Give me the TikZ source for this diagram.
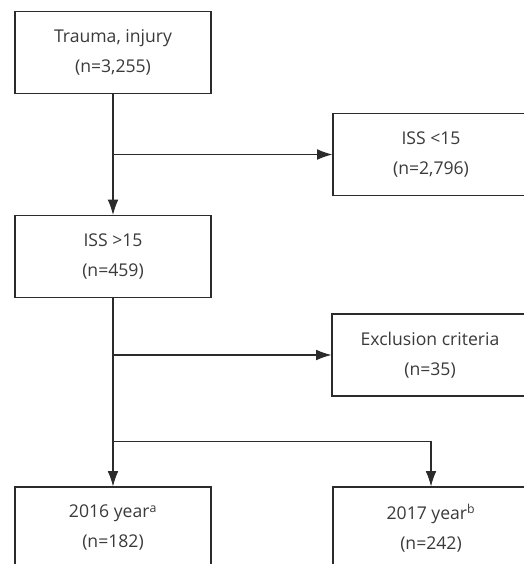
\documentclass[tikz,border=0pt]{standalone}
\usepackage{fontspec}
\setmainfont{Open Sans}
\usepackage{tikz}
\usetikzlibrary{arrows.meta, positioning, calc}
\definecolor{flowgray}{HTML}{3a3a3a}
\definecolor{flowline}{HTML}{2b2b2b}
\tikzset{
  flowbox/.style={draw=flowline, line width=0.8pt, minimum width=147pt, minimum height=61.5pt,
                  align=center, inner sep=0pt, text=flowgray, font=\fontsize{13.2}{22.5}\selectfont},
  arrow/.style={-{Latex[length=11.5pt,width=8pt]}, line width=0.8pt, draw=flowline},
  link/.style={line width=0.8pt, draw=flowline}
}
\begin{document}
\begin{tikzpicture}[x=0.75pt, y=-0.75pt]
    \clip (0,0) rectangle (524,564);
    \fill[white] (0,0) rectangle (524,564);

    \node[flowbox] (trauma) at (113,52.5) {Trauma, injury\\(n=3,255)};
    \node[flowbox] (isslow) at (431,154.5) {ISS {\textless}15\\(n=2,796)};
    \node[flowbox] (isshigh) at (113,256.5) {ISS {\textgreater}15\\(n=459)};
    \node[flowbox] (excl) at (430,355) {Exclusion criteria\\(n=35)};
    \node[flowbox] (y16) at (113,528) {2016 year\textsuperscript{a}\\(n=182)};
    \node[flowbox] (y17) at (431,528) {2017 year\textsuperscript{b}\\(n=242)};

    \coordinate (split1) at (trauma.south |- isslow.west);
    \coordinate (split2) at (isshigh.south |- excl.west);
    \coordinate (split3) at ($(isshigh.south)!0.76!(y16.north)$);

    \draw[arrow] (trauma) -- (isshigh);
    \draw[arrow] (split1) -- (isslow.west);
    \draw[arrow] (isshigh) -- (y16);
    \draw[arrow] (split2) -- (excl.west);
    \draw[arrow] (split3) -| (y17.north);
  \end{tikzpicture}
\end{document}
